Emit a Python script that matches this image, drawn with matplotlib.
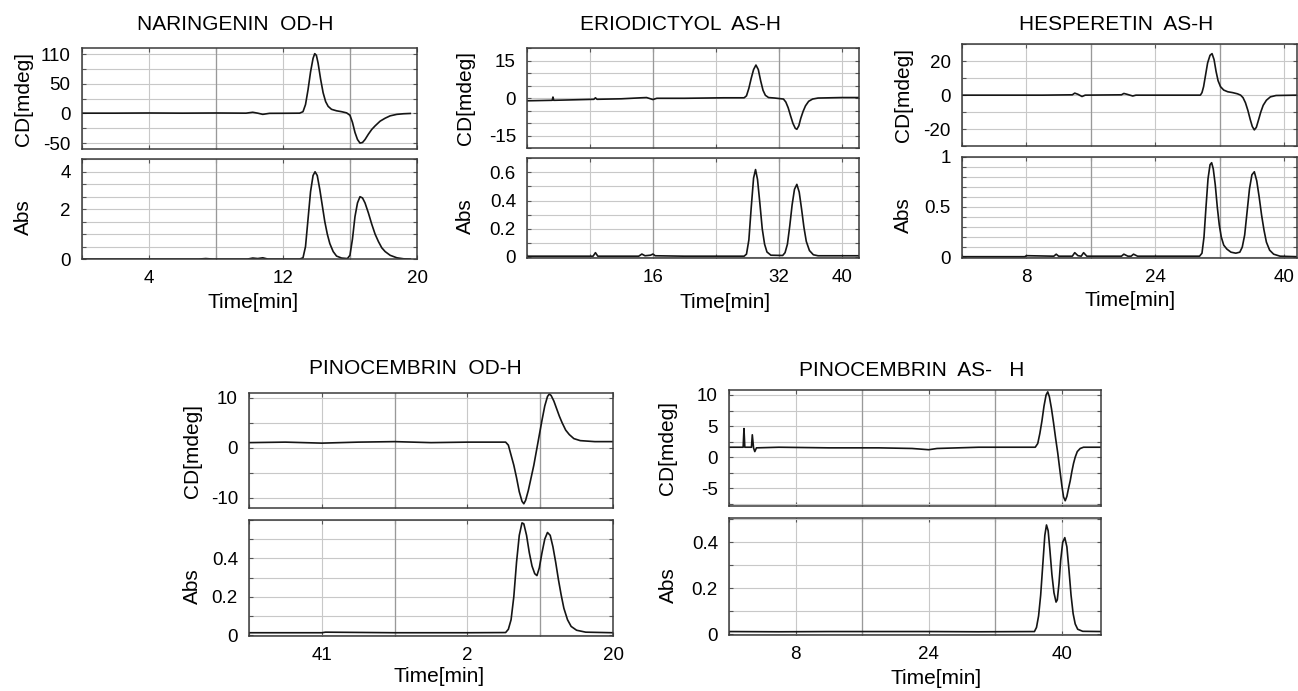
import matplotlib
matplotlib.use("Agg")
import matplotlib.pyplot as plt
from matplotlib.ticker import MultipleLocator
import numpy as np

plt.rcParams['font.family'] = ['Liberation Sans', 'DejaVu Sans']

W, H = 1298, 691

# ---- data (time [min], value) ----

# NARINGENIN OD-H
nar_cd_t = [0, 2, 4, 6, 8, 9.8, 10.2, 10.5, 10.8, 11.2, 12, 13, 13.2, 13.35, 13.5, 13.65, 13.8, 13.9,
            14.0, 14.1, 14.25, 14.4, 14.55, 14.7, 14.9, 15.2, 15.5, 15.8, 16.0, 16.15, 16.3, 16.45,
            16.6, 16.75, 16.9, 17.1, 17.3, 17.5, 17.8, 18.1, 18.4, 18.8, 19.2, 19.6]
nar_cd = [0.5, 0.5, 0.8, 0.5, 0.8, 0.5, 2.0, 0.5, -1.5, 0.2, 0.3, 0.5, 3, 15, 40, 70, 93, 101,
          98, 85, 58, 35, 20, 12, 7, 4.5, 3, 1, -3, -15, -32, -44,
          -50, -49, -44, -35, -27, -21, -13, -8, -4, -1.5, -0.5, 0]
nar_abs_t = [0, 7.0, 7.4, 7.8, 9.9, 10.2, 10.5, 10.8, 11.1, 13.0, 13.2, 13.35, 13.5, 13.65, 13.8, 13.92,
             14.05, 14.2, 14.35, 14.5, 14.65, 14.8, 15.0, 15.2, 15.5, 15.85, 16.0, 16.15, 16.3, 16.45,
             16.6, 16.75, 16.9, 17.1, 17.3, 17.5, 17.7, 17.9, 18.1, 18.4, 18.8, 19.2, 19.6]
nar_abs = [0, 0, 0.02, 0, 0, 0.04, 0.02, 0.05, 0, 0, 0.05, 0.5, 1.6, 2.7, 3.35, 3.5,
           3.35, 2.8, 2.15, 1.5, 1.0, 0.62, 0.3, 0.12, 0.04, 0.02, 0.15, 0.8, 1.7, 2.25,
           2.5, 2.45, 2.25, 1.85, 1.4, 1.0, 0.7, 0.45, 0.3, 0.15, 0.05, 0.01, 0]

# ERIODICTYOL AS-H
eri_cd_t = [0, 3.2, 3.3, 3.4, 6, 8.5, 8.7, 8.9, 12, 14.5, 15.2, 16, 16.5, 20, 25, 27.6, 27.9, 28.2,
            28.5, 28.8, 29.1, 29.4, 29.7, 30.0, 30.3, 30.7, 31.5, 32.6, 32.9, 33.2, 33.5, 33.8,
            34.1, 34.3, 34.55, 34.8, 35.1, 35.4, 35.8, 36.3, 37, 40, 42.2]
eri_cd = [-1.0, -0.8, 0.5, -0.8, -0.6, -0.4, 0.2, -0.4, -0.2, 0.2, 0.3, -0.5, 0, 0, 0.2, 0.2, 1, 4,
          8, 11.5, 13.3, 11.5, 7, 3.2, 1.2, 0.3, 0.1, -0.3, -1.5, -3.8, -7, -10,
          -12, -12.4, -11, -8, -5.2, -3, -1.2, -0.3, 0.1, 0.3, 0.3]
eri_abs_t = [0, 8.4, 8.7, 9.0, 14.2, 14.6, 15.0, 15.7, 16.0, 16.3, 20, 27.6, 27.9, 28.2, 28.5, 28.8,
             29.05, 29.3, 29.6, 29.9, 30.2, 30.5, 31.0, 32.5, 32.8, 33.1, 33.4, 33.7, 34.0, 34.3,
             34.6, 34.9, 35.2, 35.5, 35.9, 36.4, 37, 42.2]
eri_abs = [0.005, 0.005, 0.03, 0.005, 0.005, 0.02, 0.008, 0.012, 0.02, 0.008, 0.005, 0.005, 0.02, 0.12,
           0.35, 0.56, 0.62, 0.55, 0.38, 0.2, 0.09, 0.035, 0.012, 0.01, 0.03, 0.09, 0.22, 0.37, 0.48,
           0.515, 0.46, 0.34, 0.21, 0.11, 0.045, 0.015, 0.008, 0.008]

# HESPERETIN AS-H
hes_cd_t = [0, 8, 10, 13.7, 14.0, 14.4, 14.9, 15.3, 19.8, 20.1, 20.5, 21.2, 21.6, 29.6, 29.8, 30.0,
            30.25, 30.5, 30.8, 31.05, 31.3, 31.55, 31.8, 32.1, 32.5, 33.0, 33.6, 34.2, 34.6, 34.9,
            35.2, 35.5, 35.8, 36.05, 36.3, 36.55, 36.8, 37.1, 37.4, 37.8, 38.3, 39, 41.6]
hes_cd = [0, 0, 0, 0.2, 1.2, 0.5, -0.8, 0, 0.2, 1.0, 0.5, -0.5, 0, 0, 1.5, 5,
          12, 19, 23.5, 24.5, 21, 14, 8.5, 5, 3, 2, 1.5, 0.8, 0, -1.5,
          -4.5, -9, -14.5, -18.5, -20.5, -19, -15, -10, -6, -3, -1, -0.2, 0]
hes_abs_t = [0, 7.8, 8.0, 11.4, 11.7, 12.0, 13.7, 14.0, 14.4, 14.8, 15.1, 15.5, 19.8, 20.1, 20.6, 21.0,
             21.3, 21.8, 29.5, 29.8, 30.05, 30.3, 30.55, 30.8, 31.0, 31.2, 31.45, 31.7, 31.95, 32.2,
             32.5, 32.9, 33.4, 34.0, 34.5, 34.8, 35.1, 35.4, 35.7, 36.0, 36.3, 36.6, 36.9, 37.2,
             37.5, 37.8, 38.2, 38.7, 39.5, 41.6]
hes_abs = [0.005, 0.005, 0.015, 0.01, 0.03, 0.01, 0.01, 0.045, 0.015, 0.01, 0.045, 0.01, 0.01, 0.03, 0.01, 0.01,
           0.03, 0.01, 0.01, 0.04, 0.2, 0.5, 0.78, 0.92, 0.94, 0.88, 0.72, 0.5, 0.32, 0.2,
           0.12, 0.08, 0.05, 0.04, 0.05, 0.1, 0.22, 0.45, 0.68, 0.82, 0.85, 0.76, 0.6, 0.42,
           0.27, 0.15, 0.07, 0.03, 0.01, 0.005]

# PINOCEMBRIN OD-H
pod_cd_t = [0, 2, 4, 6, 8, 10, 12, 14.1, 14.25, 14.4, 14.55, 14.7, 14.85, 15.0, 15.1, 15.2, 15.35,
            15.5, 15.65, 15.8, 15.95, 16.1, 16.25, 16.4, 16.5, 16.6, 16.75, 16.9, 17.05, 17.2,
            17.4, 17.6, 17.85, 18.2, 19, 20]
pod_cd = [1.0, 1.1, 0.9, 1.1, 1.2, 1.0, 1.1, 1.1, 0.5, -1.5, -3.5, -6, -8.8, -10.7, -11.2, -10.5, -8.5,
          -6, -3.5, -0.5, 2.5, 5.5, 8.3, 10.2, 10.7, 10.4, 9.3, 7.8, 6.3, 5,
          3.5, 2.6, 1.8, 1.4, 1.2, 1.2]
pod_abs_t = [0, 4, 4.2, 8, 12, 14.1, 14.25, 14.4, 14.55, 14.7, 14.85, 15.0, 15.1, 15.25, 15.4, 15.55,
             15.7, 15.82, 15.95, 16.1, 16.25, 16.4, 16.55, 16.7, 16.85, 17.0, 17.15, 17.3, 17.5,
             17.7, 18.0, 18.5, 20]
pod_abs = [0.012, 0.012, 0.015, 0.012, 0.012, 0.013, 0.03, 0.08, 0.2, 0.38, 0.52, 0.585, 0.58, 0.52, 0.43, 0.36,
           0.32, 0.31, 0.35, 0.43, 0.5, 0.535, 0.52, 0.46, 0.38, 0.29, 0.21, 0.14, 0.08,
           0.045, 0.025, 0.015, 0.012]

# PINOCEMBRIN AS-H
pas_cd_t = [0, 1.7, 1.8, 1.9, 2.7, 2.8, 2.95, 3.1, 3.3, 6, 12, 18, 22, 24, 25, 30, 36.8, 37.1, 37.35,
            37.6, 37.85, 38.1, 38.3, 38.5, 38.75, 39.0, 39.25, 39.5, 39.75, 40.0, 40.2, 40.4, 40.6,
            40.8, 41.0, 41.2, 41.4, 41.6, 41.85, 42.2, 42.6, 44.7]
pas_cd = [1.6, 1.6, 4.6, 1.6, 1.6, 3.6, 1.5, 0.9, 1.5, 1.6, 1.5, 1.5, 1.4, 1.2, 1.4, 1.6, 1.6, 2.2, 3.8,
          5.8, 8.2, 10.0, 10.5, 9.7, 7.8, 5.5, 3.0, 0.7, -2.0, -4.6, -6.4, -7.0, -6.3,
          -5, -3.8, -2.3, -1, 0, 0.9, 1.4, 1.6, 1.6]
pas_abs_t = [0, 6, 12, 24, 30, 36.7, 36.95, 37.2, 37.45, 37.7, 37.95, 38.15, 38.35, 38.55, 38.8, 39.05,
             39.3, 39.45, 39.65, 39.85, 40.1, 40.35, 40.6, 40.85, 41.1, 41.35, 41.6, 41.9, 42.5, 44.7]
pas_abs = [0.012, 0.011, 0.012, 0.012, 0.011, 0.012, 0.03, 0.08, 0.17, 0.3, 0.43, 0.475, 0.45, 0.37, 0.26, 0.18,
           0.14, 0.15, 0.22, 0.32, 0.4, 0.42, 0.38, 0.28, 0.17, 0.09, 0.045, 0.022, 0.013, 0.012]

# tick labels as printed
titles = ["NARINGENIN  OD-H", "ERIODICTYOL  AS-H", "HESPERETIN  AS-H",
          "PINOCEMBRIN  OD-H", "PINOCEMBRIN  AS-   H"]
x_ticks = [[4, 12, 20], [16, 32, 40], [8, 24, 40], [4, 12, 20], [8, 24, 40]]
x_labels = [["4", "12", "20"], ["16", "32", "40"], ["8", "24", "40"], ["41", "2", "20"], ["8", "24", "40"]]
cd_ticks = [[100, 50, 0, -50], [15, 0, -15], [20, 0, -20], [10, 0, -10], [10, 5, 0, -5]]
cd_labels = [["110", "50", "0", "-50"], ["15", "0", "-15"], ["20", "0", "-20"], ["10", "0", "-10"],
             ["10", "5", "0", "-5"]]
abs_ticks = [[3.5, 2, 0], [0.6, 0.4, 0.2, 0], [1, 0.5, 0], [0.4, 0.2, 0], [0.4, 0.2, 0]]
abs_labels = [["4", "2", "0"], ["0.6", "0.4", "0.2", "0"], ["1", "0.5", "0"], ["0.4", "0.2", "0"],
              ["0.4", "0.2", "0"]]

# layout in pixels: (left, right, cd_top, cd_bottom, abs_top, abs_bottom)
boxes = [(81.7, 417, 48.3, 149, 159.3, 259.3),
         (527, 859, 48.3, 148.3, 158.3, 258.3),
         (962, 1297, 44.3, 146, 156.7, 257.7),
         (249, 613, 393, 508.3, 520, 636),
         (729, 1101, 390, 505.7, 518.3, 635)]
xlims = [(0, 19.6), (0, 42.2), (0, 41.6), (0, 20), (0, 44.7)]
xsteps = [4, 8, 8, 4, 8]
cd_lims = [(-60, 110), (-20, 20), (-30, 30), (-12.1, 10.9), (-7.8, 10.8)]
cd_steps = [25, 5, 10, 5, 2.5]
abs_lims = [(-0.01, 4.0), (-0.01, 0.7), (-0.005, 1.0), (-0.005, 0.6), (-0.003, 0.504)]
abs_steps = [0.5, 0.1, 0.1, 0.1, 0.1]
title_xy = [(235, 25), (680, 25), (1116, 25), (415, 368), (912, 370)]
ylab_x = [23, 465, 903, 192, 668]
time_xy = [(253, 303), (725, 303), (1130, 301), (439, 677), (936, 678)]

traces = [(nar_cd_t, nar_cd, nar_abs_t, nar_abs),
          (eri_cd_t, eri_cd, eri_abs_t, eri_abs),
          (hes_cd_t, hes_cd, hes_abs_t, hes_abs),
          (pod_cd_t, pod_cd, pod_abs_t, pod_abs),
          (pas_cd_t, pas_cd, pas_abs_t, pas_abs)]

fig = plt.figure(figsize=(W / 100, H / 100), dpi=100)


def frac_box(l, r, t, b):
    return [l / W, 1 - b / H, (r - l) / W, (b - t) / H]


def style(ax, xlim, xstep, ylim, ystep, yticks, ylabels):
    ax.set_xlim(*xlim)
    ax.set_ylim(*ylim)
    ax.xaxis.set_minor_locator(MultipleLocator(xstep))
    ax.yaxis.set_minor_locator(MultipleLocator(ystep))
    ax.xaxis.remove_overlapping_locs = False
    ax.yaxis.remove_overlapping_locs = False
    ax.grid(which='minor', color='#c8c8c8', lw=0.8)
    # every second vertical grid line is a bit darker
    for v in np.arange(2 * xstep, xlim[1], 2 * xstep):
        ax.axvline(v, color='#999999', lw=0.9, zorder=0.8)
    ax.set_axisbelow(True)
    ax.set_yticks(yticks)
    ax.set_yticklabels(ylabels)
    ax.tick_params(which='major', length=0, labelsize=13.5, pad=8)
    ax.tick_params(which='minor', direction='in', length=3, width=0.8, color='#555',
                   top=True, right=True)
    for s in ax.spines.values():
        s.set_color('#3a3a3a')
        s.set_linewidth(1.1)


for i in range(5):
    l, r, ct, cb, at, ab = boxes[i]
    cd_t, cd_v, ab_t, ab_v = traces[i]

    ax1 = fig.add_axes(frac_box(l, r, ct, cb))
    ax1.plot(cd_t, cd_v, color='#151515', lw=1.2)
    style(ax1, xlims[i], xsteps[i], cd_lims[i], cd_steps[i], cd_ticks[i], cd_labels[i])
    ax1.set_xticks(x_ticks[i])
    ax1.tick_params(axis='x', labelbottom=False)

    ax2 = fig.add_axes(frac_box(l, r, at, ab))
    ax2.plot(ab_t, ab_v, color='#151515', lw=1.2)
    style(ax2, xlims[i], xsteps[i], abs_lims[i], abs_steps[i], abs_ticks[i], abs_labels[i])
    ax2.set_xticks(x_ticks[i])
    ax2.set_xticklabels(x_labels[i])

    tx, ty = title_xy[i]
    fig.text(tx / W, 1 - ty / H, titles[i], ha='center', va='center', fontsize=15)
    fig.text(ylab_x[i] / W, 1 - (ct + cb) / 2 / H, "CD[mdeg]", rotation=90,
             ha='center', va='center', fontsize=15)
    fig.text(ylab_x[i] / W, 1 - ((at + ab) / 2 + 8) / H, "Abs", rotation=90,
             ha='center', va='center', fontsize=15)
    lx, ly = time_xy[i]
    fig.text(lx / W, 1 - ly / H, "Time[min]", ha='center', va='center', fontsize=15)

fig.savefig("out.png", dpi=100)
